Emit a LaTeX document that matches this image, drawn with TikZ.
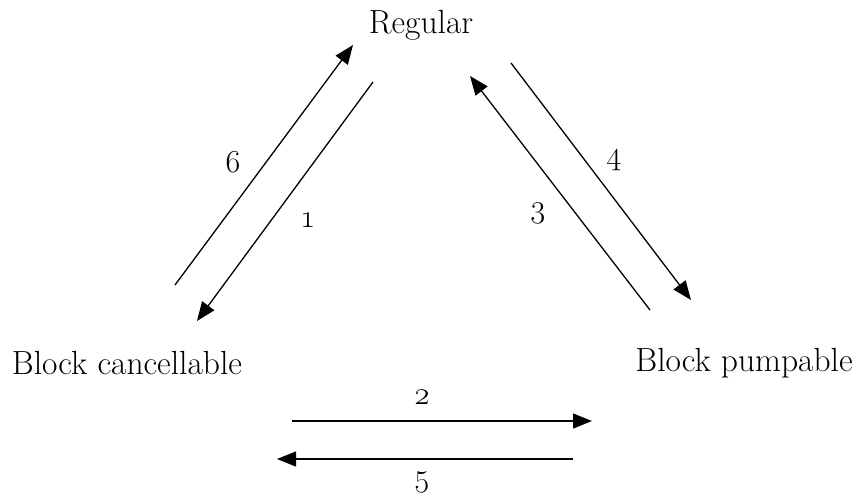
\documentclass[tikz,border=0pt]{standalone}
\usepackage{fontspec}
\setmainfont{Latin Modern Roman}[Numbers=OldStyle]
\usetikzlibrary{arrows.meta}
\tikzset{
  lbl/.style={font=\fontsize{33.5}{40}\selectfont, inner sep=0pt},
  num/.style={font=\fontsize{32}{38}\selectfont, inner sep=0pt},
  conn/.style={line width=1.3pt, -{Triangle[length=19pt,width=15pt]}},
}
\begin{document}
\begin{tikzpicture}[x=1pt,y=-1pt]
\useasboundingbox (0,0) rectangle (855,496);
\node[lbl] (reg) at (421,25) {Regular};
\node[lbl] (bc) at (127,363) {Block cancellable};
\node[lbl] (bp) at (744,363) {Block pumpable};
% endpoints
\coordinate (a6s) at (175,285); \coordinate (a6e) at (353,45);
\coordinate (a1s) at (373,82);  \coordinate (a1e) at (197,321);
\coordinate (a3s) at (650,310); \coordinate (a3e) at (470,76);
\coordinate (a4s) at (511,63);  \coordinate (a4e) at (691,300);
\coordinate (a2s) at (292,421); \coordinate (a2e) at (592,421);
\coordinate (a5s) at (573,459); \coordinate (a5e) at (277,459);
\draw[conn] (a6s) -- (a6e);
\draw[conn] (a1s) -- (a1e);
\draw[conn] (a3s) -- (a3e);
\draw[conn] (a4s) -- (a4e);
\draw[conn] (a2s) -- (a2e);
\draw[conn] (a5s) -- (a5e);
\node[num] (n6) at (233,162) {6};
\node[num] (n1) at (308,220) {1};
\node[num] (n3) at (538,213) {3};
\node[num] (n4) at (614,160) {4};
\node[num] (n2) at (422,397) {2};
\node[num] (n5) at (422,482) {5};
\end{tikzpicture}
\end{document}
